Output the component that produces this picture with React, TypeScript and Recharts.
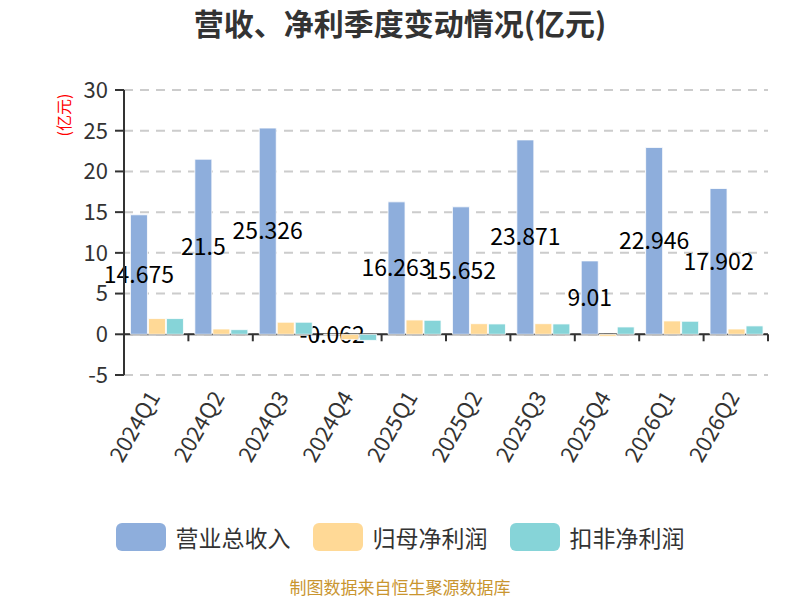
import { BarChart, Bar, XAxis, YAxis, CartesianGrid, Legend, LabelList, ReferenceLine } from 'recharts'

const quarters = ['2024Q1', '2024Q2', '2024Q3', '2024Q4', '2025Q1', '2025Q2', '2025Q3', '2025Q4', '2026Q1', '2026Q2']
const revenue = [14.675, 21.5, 25.326, -0.062, 16.263, 15.652, 23.871, 9.01, 22.946, 17.902]
const netProfit = [1.93, 0.65, 1.48, -0.65, 1.76, 1.3, 1.3, -0.25, 1.64, 0.65]
const deductedProfit = [1.93, 0.57, 1.48, -0.75, 1.72, 1.27, 1.27, 0.9, 1.6, 1.03]
const yTicks = [-5, 0, 5, 10, 15, 20, 25, 30]

const seriesNames = ['营业总收入', '归母净利润', '扣非净利润']
const seriesColors = ['#8EAEDC', '#FFD996', '#86D4D8']

const data = quarters.map((q, i) => ({
  quarter: q,
  revenue: revenue[i],
  netProfit: netProfit[i],
  deductedProfit: deductedProfit[i],
}))

const FONT = '"Noto Sans CJK SC", "Noto Sans", sans-serif'

function XTick({ x, y, payload }: any) {
  return (
    <text
      x={x - 2}
      y={y}
      transform={`rotate(-60, ${x - 2}, ${y})`}
      textAnchor="end"
      dy="0.35em"
      fontSize={22}
      fill="#333"
      fontFamily={FONT}
    >
      {payload.value}
    </text>
  )
}

// zero line with category boundary ticks, like the axis sitting at y = 0
function ZeroAxis(props: any) {
  const { x1, y1, x2 } = props
  const n = quarters.length
  const step = (x2 - x1) / n
  return (
    <g>
      <line x1={x1} y1={y1} x2={x2} y2={y1} stroke="#333" strokeWidth={2} />
      {Array.from({ length: n + 1 }, (_, i) => (
        <line key={i} x1={x1 + i * step} y1={y1} x2={x1 + i * step} y2={y1 + 7} stroke="#333" strokeWidth={2} />
      ))}
    </g>
  )
}

function LegendContent() {
  return (
    <div style={{ display: 'flex', justifyContent: 'center', alignItems: 'center', gap: 22, fontFamily: FONT }}>
      {seriesNames.map((name, i) => (
        <div key={name} style={{ display: 'flex', alignItems: 'center' }}>
          <div style={{ width: 50, height: 28, borderRadius: 6, background: seriesColors[i], marginRight: 10 }} />
          <span style={{ fontSize: 23, color: '#333' }}>{name}</span>
        </div>
      ))}
    </div>
  )
}

export default function App() {
  return (
    <div style={{ position: 'absolute', left: 0, top: 0, width: 800, height: 600, background: '#fff', fontFamily: FONT }}>
      <div style={{ position: 'absolute', top: 4, width: 800, textAlign: 'center', fontSize: 30, fontWeight: 'bold', color: '#333', lineHeight: '36px' }}>
        营收、净利季度变动情况(亿元)
      </div>
      <BarChart
        width={800}
        height={600}
        data={data}
        margin={{ top: 90, right: 32, bottom: 0, left: 0 }}
        barCategoryGap="10%"
        barGap={1}
      >
        <CartesianGrid vertical={false} stroke="#ccc" strokeWidth={2} strokeDasharray="9 7" />
        <XAxis
          dataKey="quarter"
          height={225}
          axisLine={false}
          tickLine={false}
          tickSize={6}
          tickMargin={12}
          interval={0}
          tick={<XTick />}
        />
        <YAxis
          width={124}
          domain={[-5, 30]}
          ticks={yTicks}
          interval={0}
          axisLine={{ stroke: '#333', strokeWidth: 2 }}
          tickLine={{ stroke: '#333', strokeWidth: 2 }}
          tickSize={9}
          tickMargin={7}
          tick={{ fontSize: 22, fill: '#333', fontFamily: FONT }}
          label={({ viewBox }: any) => (
            <text
              x={viewBox.x + 63}
              y={viewBox.y + 25}
              transform={`rotate(-90, ${viewBox.x + 63}, ${viewBox.y + 25})`}
              textAnchor="middle"
              dominantBaseline="central"
              fontSize={16}
              fill="#f00"
              fontFamily={FONT}
            >
              (亿元)
            </text>
          )}
        />
        <ReferenceLine y={0} shape={<ZeroAxis />} zIndex={250} />
        <Bar dataKey="revenue" name={seriesNames[0]} fill={seriesColors[0]} stroke="#fff" strokeWidth={0.8} isAnimationActive={false} zIndex={300}>
          <LabelList dataKey="revenue" position="center" fill="#000" fontSize={23} fontFamily={FONT} zIndex={350} />
        </Bar>
        <Bar dataKey="netProfit" name={seriesNames[1]} fill={seriesColors[1]} stroke="#fff" strokeWidth={0.8} isAnimationActive={false} zIndex={400} />
        <Bar dataKey="deductedProfit" name={seriesNames[2]} fill={seriesColors[2]} stroke="#fff" strokeWidth={0.8} isAnimationActive={false} zIndex={400} />
        <Legend
          layout="horizontal"
          verticalAlign="middle"
          content={<LegendContent />}
          wrapperStyle={{ top: 520, left: 0, width: 800 }}
        />
      </BarChart>
      <div style={{ position: 'absolute', top: 576, width: 800, textAlign: 'center', fontSize: 17, color: '#C9952F', lineHeight: '22px' }}>
        制图数据来自恒生聚源数据库
      </div>
    </div>
  )
}
